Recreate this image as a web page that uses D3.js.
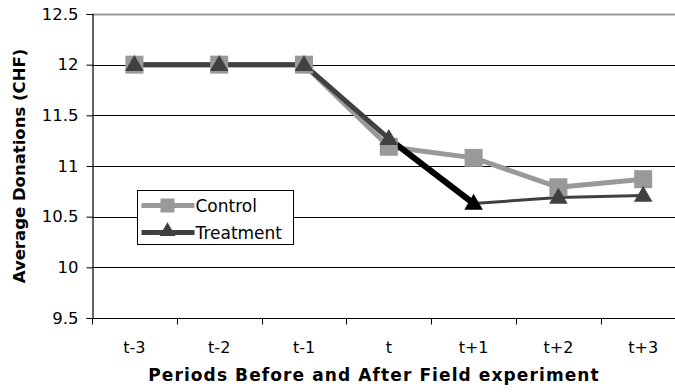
<!DOCTYPE html>
<html>
<head>
<meta charset="utf-8">
<script src="https://cdn.jsdelivr.net/npm/d3@7"></script>
<style>
  body { margin: 0; background: #fff; }
  svg { display: block; }
  text { font-family: "DejaVu Sans", Verdana, sans-serif; fill: #000; }
</style>
</head>
<body>
<svg id="chart" width="675" height="392"></svg>
<script>
// Average donations per period, before and after the field experiment
const periods = ["t-3", "t-2", "t-1", "t", "t+1", "t+2", "t+3"];
const controlValues = [12, 12, 12, 11.19, 11.08, 10.79, 10.87];
const treatmentValues = [12, 12, 12, 11.27, 10.63, 10.69, 10.71];
const yTicks = [9.5, 10, 10.5, 11, 11.5, 12, 12.5];
const yLabels = ["9.5", "10", "10.5", "11", "11.5", "12", "12.5"];

const svg = d3.select("#chart");
const plotLeft = 92, plotTop = 14, plotBottom = 318, band = 84.8;
const plotRight = plotLeft + band * periods.length;

const x = d3.scaleBand().domain(periods).range([plotLeft, plotRight]).padding(0);
const y = d3.scaleLinear().domain([9.5, 12.5]).range([plotBottom, plotTop]);
const cx = d => x(d) + x.bandwidth() / 2;

// horizontal gridlines
svg.append("g").selectAll("line")
  .data(yTicks.slice(1, -1))
  .join("line")
  .attr("x1", plotLeft).attr("x2", plotRight)
  .attr("y1", d => Math.round(y(d)) + 0.5).attr("y2", d => Math.round(y(d)) + 0.5)
  .attr("stroke", "#000").attr("stroke-width", 1);

// top border of the plot area
svg.append("line")
  .attr("x1", plotLeft).attr("x2", plotRight)
  .attr("y1", Math.round(y(12.5)) + 0.5).attr("y2", Math.round(y(12.5)) + 0.5)
  .attr("stroke", "#999").attr("stroke-width", 2);

// y axis
const yAxis = d3.axisLeft(y).tickValues(yTicks)
  .tickFormat((d, i) => yLabels[i]).tickSize(6).tickPadding(8);
const gy = svg.append("g").attr("transform", `translate(${plotLeft + 0.5},0)`).call(yAxis);
gy.select(".domain").attr("stroke", "#000").attr("stroke-width", 1.2);
gy.selectAll(".tick line").attr("stroke", "#000");
gy.selectAll(".tick text").attr("font-size", 16.5).attr("fill", "#000")
  .attr("font-family", "DejaVu Sans, sans-serif");

// x axis, ticks on category boundaries
const gx = svg.append("g").attr("transform", `translate(0,${plotBottom + 0.5})`);
gx.append("line").attr("x1", plotLeft).attr("x2", plotRight).attr("stroke", "#000").attr("stroke-width", 1.2);
gx.selectAll(".tk").data(periods).join("line").attr("class", "tk")
  .attr("x1", d => Math.round(x(d)) + 0.5).attr("x2", d => Math.round(x(d)) + 0.5)
  .attr("y1", 0).attr("y2", 6).attr("stroke", "#000");
gx.selectAll(".lb").data(periods).join("text").attr("class", "lb")
  .attr("x", d => cx(d)).attr("y", 34)
  .attr("text-anchor", "middle").attr("font-size", 16).text(d => d);

// axis titles
svg.append("text")
  .attr("x", 374).attr("y", 381)
  .attr("text-anchor", "middle").attr("font-size", 17).attr("font-weight", "bold")
  .attr("letter-spacing", 1.1)
  .text("Periods Before and After Field experiment");
svg.append("text")
  .attr("transform", `translate(25,${(plotTop + plotBottom) / 2}) rotate(-90)`)
  .attr("text-anchor", "middle").attr("font-size", 16.5).attr("font-weight", "bold")
  .text("Average Donations (CHF)");

const controlColor = "#999999", treatColor = "#404040";

// control series
const line = d3.line().x((d, i) => cx(periods[i])).y(d => y(d));
svg.append("path").datum(controlValues).attr("d", line)
  .attr("fill", "none").attr("stroke", controlColor).attr("stroke-width", 5)
  .attr("stroke-linejoin", "round");

// treatment series, drawn segment by segment
const treatSegStyle = [
  { c: treatColor, w: 5 }, { c: treatColor, w: 5 }, { c: treatColor, w: 5 },
  { c: "#000", w: 6 }, { c: treatColor, w: 3 }, { c: treatColor, w: 3 }
];
svg.append("g").selectAll("line")
  .data(treatmentValues.slice(0, -1))
  .join("line")
  .attr("x1", (d, i) => cx(periods[i])).attr("y1", d => y(d))
  .attr("x2", (d, i) => cx(periods[i + 1])).attr("y2", (d, i) => y(treatmentValues[i + 1]))
  .attr("stroke", (d, i) => treatSegStyle[i].c)
  .attr("stroke-width", (d, i) => treatSegStyle[i].w)
  .attr("stroke-linecap", "butt");

// markers
const sq = 18;
svg.append("g").selectAll("rect")
  .data(controlValues)
  .join("rect")
  .attr("x", (d, i) => cx(periods[i]) - sq / 2).attr("y", d => y(d) - sq / 2)
  .attr("width", sq).attr("height", sq).attr("fill", controlColor);

const tri = d3.symbol().type(d3.symbolTriangle).size(150);
svg.append("g").selectAll("path")
  .data(treatmentValues)
  .join("path")
  .attr("d", tri)
  .attr("transform", (d, i) => `translate(${cx(periods[i])},${y(d) + 1})`)
  .attr("fill", (d, i) => i === 4 ? "#000" : treatColor);

// legend
const lg = svg.append("g").attr("transform", "translate(137.5,190.5)");
lg.append("rect").attr("width", 156).attr("height", 54)
  .attr("fill", "#fff").attr("stroke", "#000").attr("stroke-width", 1);
const legendItems = [
  { name: "Control", color: controlColor, shape: "square" },
  { name: "Treatment", color: treatColor, shape: "triangle" }
];
const li = lg.selectAll(".item").data(legendItems).join("g")
  .attr("class", "item").attr("transform", (d, i) => `translate(0,${15 + i * 27})`);
li.append("line").attr("x1", 4).attr("x2", 57).attr("y1", 0).attr("y2", 0)
  .attr("stroke", d => d.color).attr("stroke-width", 5);
li.filter(d => d.shape === "square").append("rect")
  .attr("x", 23).attr("y", -7).attr("width", 14).attr("height", 14).attr("fill", controlColor);
li.filter(d => d.shape === "triangle").append("path")
  .attr("d", d3.symbol().type(d3.symbolTriangle).size(110))
  .attr("transform", "translate(30,-1)").attr("fill", treatColor);
li.append("text").attr("x", 58).attr("y", 6).attr("font-size", 17).text(d => d.name);
</script>
</body>
</html>
